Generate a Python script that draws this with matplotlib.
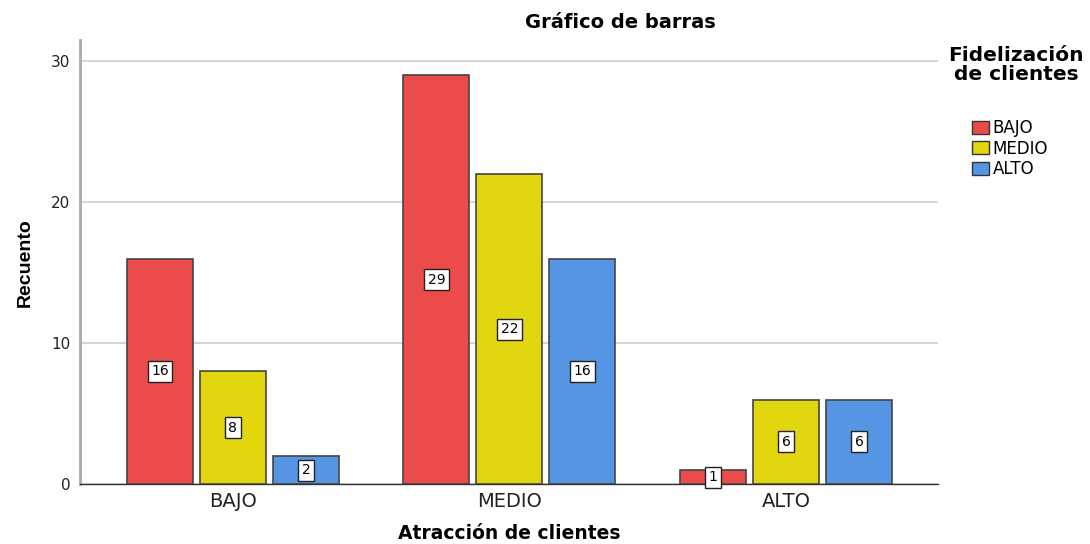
import matplotlib
matplotlib.use("Agg")
import matplotlib.pyplot as plt
from matplotlib.patches import Patch
import numpy as np

plt.rcParams['font.family'] = ['DejaVu Sans']

# Data
categories = ["BAJO", "MEDIO", "ALTO"]
series_names = ["BAJO", "MEDIO", "ALTO"]
bajo = [16, 29, 1]
medio = [8, 22, 6]
alto = [2, 16, 6]
colors = ["#eb4b4b", "#e2d60e", "#5595e3"]

fig = plt.figure(figsize=(10.9, 5.44), dpi=100)
ax = fig.add_axes([0.0734, 0.110, 0.7872, 0.816])

x = np.arange(len(categories))
width = 0.239
step = 0.264
for i, vals in enumerate([bajo, medio, alto]):
    pos = x + (i - 1) * step
    ax.bar(pos, vals, width, color=colors[i], edgecolor="#444444",
           linewidth=1.2, zorder=3)
    # value labels sit at half the bar height
    for p, v in zip(pos, vals):
        ax.text(p, v / 2, str(v), ha="center", va="center", fontsize=10,
                zorder=4,
                bbox=dict(boxstyle="square,pad=0.25", fc="white",
                          ec="#222222", lw=1.0))

ax.set_xlim(-0.553, 2.55)
ax.set_ylim(0, 31.5)
ax.set_yticks([0, 10, 20, 30])
ax.set_xticks(x)
ax.set_xticklabels(categories, fontsize=14, color="#222222")
ax.tick_params(axis="y", labelsize=11, length=0, pad=7, colors="#222222")
ax.tick_params(axis="x", length=0, pad=6)
ax.grid(axis="y", color="#d0d0d0", linewidth=1.2, zorder=0)

for s in ["top", "right"]:
    ax.spines[s].set_visible(False)
ax.spines["left"].set_color("#aaaaaa")
ax.spines["left"].set_linewidth(2)
ax.spines["bottom"].set_color("#333333")
ax.spines["bottom"].set_linewidth(1)

ax.set_xlabel("Atracción de clientes", fontsize=13.5, fontweight="bold", labelpad=9)
ax.set_ylabel("Recuento", fontsize=14, fontweight="bold", labelpad=12,
              family=["Liberation Sans Narrow", "Liberation Sans"])

fig.text(620 / 1090, 1 - 22 / 544, "Gráfico de barras", ha="center", va="center",
         fontsize=14, fontweight="bold")

# legend: title as separate text, entries below with a gap
fig.text(1016 / 1090, 1 - 65 / 544, "Fidelización\nde clientes", ha="center",
         va="center", fontsize=14.5, fontweight="bold", linespacing=1.0)
handles = [Patch(facecolor=c, edgecolor="#333333", linewidth=1.0) for c in colors]
fig.legend(handles, series_names, loc="upper left",
           bbox_to_anchor=(972 / 1090, 1 - 119 / 544), frameon=False,
           fontsize=12, handlelength=1.0, handleheight=0.8, handletextpad=0.25,
           labelspacing=0.15, borderpad=0, borderaxespad=0)

fig.savefig("out.png", dpi=100)
